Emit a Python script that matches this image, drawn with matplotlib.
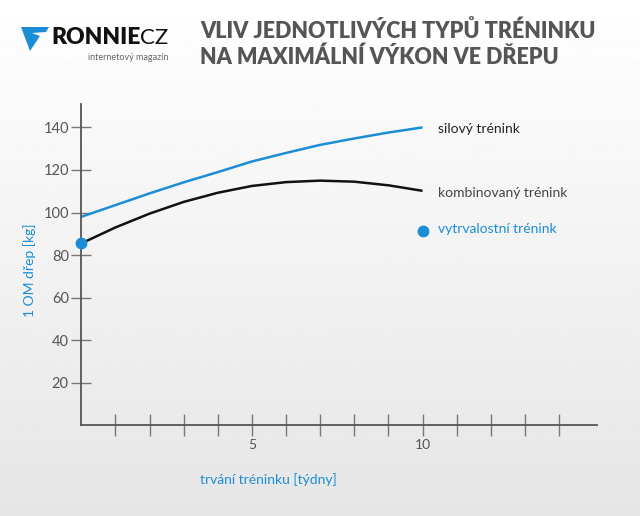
import matplotlib
matplotlib.use("Agg")
import matplotlib.pyplot as plt
from matplotlib.patches import Polygon
import numpy as np

# data
tydny = [0, 1, 2, 3, 4, 5, 6, 7, 8, 9, 10]
silovy = [98, 103.5, 109, 114.2, 119, 124, 128, 131.8, 134.8, 137.6, 140]
kombinovany = [85.5, 93, 99.5, 105, 109.3, 112.5, 114.3, 115, 114.5, 112.8, 110.2]
vytrvalostni_x = [0, 10]
vytrvalostni_y = [85.5, 91.5]
x_ticks = list(range(1, 15))
x_labels = {5: "5", 10: "10"}
y_ticks = [20, 40, 60, 80, 100, 120, 140]

BLUE = "#1b8dd6"
GRAY = "#555555"
W, H = 640, 516

plt.rcParams['font.family'] = ['Lato', 'DejaVu Sans']

fig = plt.figure(figsize=(6.4, 5.16), dpi=100)

# background gradient
bg = fig.add_axes([0, 0, 1, 1], zorder=-10)
grad = np.linspace(1.0, 0.90, 256).reshape(-1, 1)
bg.imshow(grad, cmap="gray", vmin=0, vmax=1, aspect="auto", extent=[0, 1, 0, 1])
bg.axis("off")

def fx(px):
    return px / W

def fy(py):
    return 1 - py / H

ax = fig.add_axes([fx(81.3), fy(425.4), (596.6 - 81.3) / W, (425.4 - 104) / H])
ax.patch.set_alpha(0)
ax.plot(tydny, silovy, color=BLUE, lw=1.8, solid_capstyle="butt", solid_joinstyle="round")
ax.plot(tydny, kombinovany, color="#111111", lw=1.8, solid_capstyle="butt", solid_joinstyle="round")
ax.plot(vytrvalostni_x, vytrvalostni_y, "o", color=BLUE, ms=7.5, clip_on=False, zorder=5)

ax.set_xlim(0, 15.1)
ax.set_ylim(0, 151)
for s in ["top", "right"]:
    ax.spines[s].set_visible(False)
for s in ["left", "bottom"]:
    ax.spines[s].set_color(GRAY)
    ax.spines[s].set_linewidth(1.3)

ax.set_xticks(x_ticks)
ax.set_xticklabels([x_labels.get(t, "") for t in x_ticks])
ax.set_yticks(y_ticks)
ax.tick_params(axis="x", direction="inout", length=16, width=1, color="#777777",
               labelsize=10, labelcolor=GRAY, pad=2)
ax.tick_params(axis="y", direction="inout", length=14, width=1, color="#777777",
               labelsize=10.5, labelcolor=GRAY, pad=2)

# series labels
ax.text(10.45, silovy[-1] - 0.8, "silový trénink", color="#222222", fontsize=10, va="center")
ax.text(10.45, kombinovany[-1] - 1.2, "kombinovaný trénink", color="#444444", fontsize=10, va="center")
ax.text(10.45, vytrvalostni_y[-1] + 0.6, "vytrvalostní trénink", color=BLUE, fontsize=10, va="center")

# axis titles
fig.text(fx(30), fy(270), "1 OM dřep [kg]", rotation=90, color=BLUE, fontsize=10,
         ha="center", va="center")
fig.text(fx(268), fy(480), "trvání tréninku [týdny]", color=BLUE, fontsize=10,
         ha="center", va="center")

# title
fig.text(fx(200), fy(31), "VLIV JEDNOTLIVÝCH TYPŮ TRÉNINKU", color=GRAY, fontsize=15.5,
         fontweight="heavy", ha="left", va="center")
fig.text(fx(200), fy(57), "NA MAXIMÁLNÍ VÝKON VE DŘEPU", color=GRAY, fontsize=15.5,
         fontweight="heavy", ha="left", va="center")

# logo
logo = [(fx(21), fy(27)), (fx(49), fy(27)), (fx(46), fy(32)), (fx(32), fy(33)),
        (fx(40), fy(36)), (fx(30), fy(51))]
fig.patches.append(Polygon(logo, closed=True, transform=fig.transFigure,
                           facecolor=BLUE, edgecolor="none"))
fig.text(fx(51), fy(38), "RONNIE", color="#111111", fontsize=16.5, fontweight="heavy",
         ha="left", va="center")
fig.text(fx(140), fy(38), "CZ", color="#111111", fontsize=16, ha="left", va="center")
fig.text(fx(168), fy(58), "internetový magazín", color="#666666", fontsize=6.5,
         ha="right", va="center")

fig.savefig("out.png", dpi=100)
